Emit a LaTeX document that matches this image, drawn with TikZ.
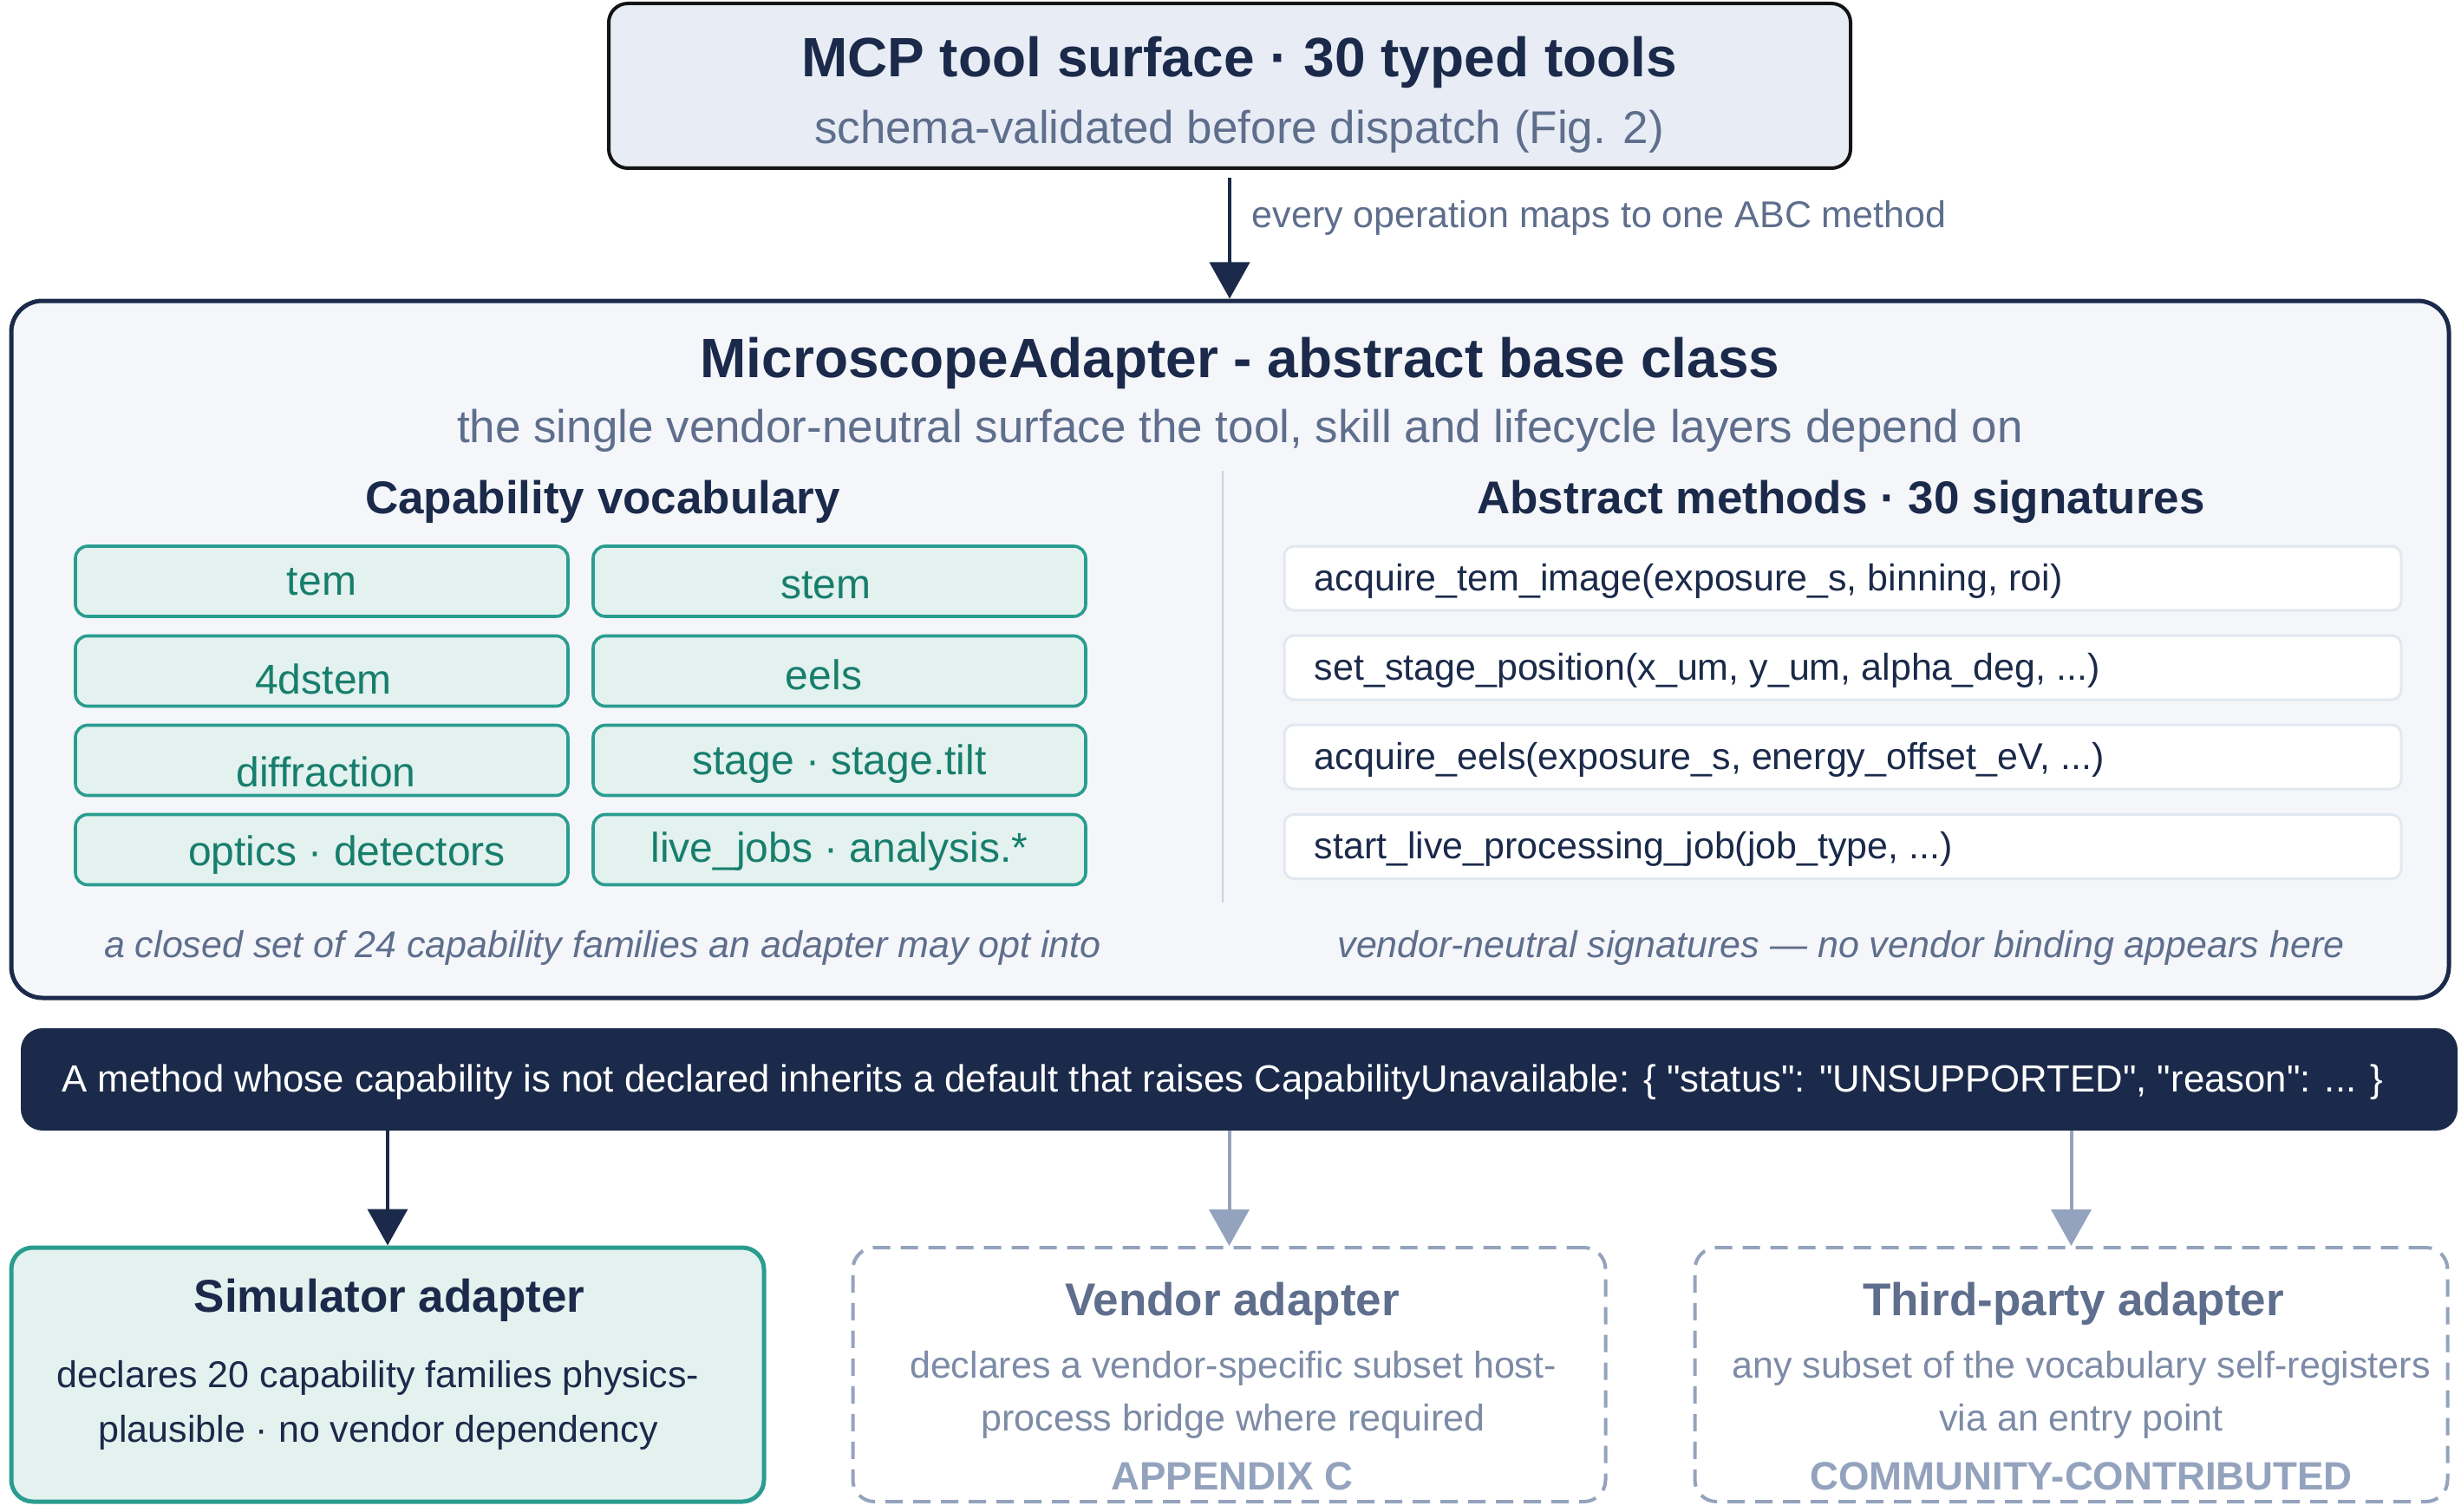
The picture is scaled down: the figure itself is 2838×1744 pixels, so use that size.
\documentclass[tikz,border=0pt]{standalone}
\usepackage{fontspec}
\setmainfont{Liberation Sans}[Ligatures=TeXOff]
\usetikzlibrary{arrows.meta}
\definecolor{navy}{HTML}{1B2A4A}
\definecolor{slate}{HTML}{5E6E8C}
\definecolor{slatelt}{HTML}{7D8BA6}
\definecolor{grayarr}{HTML}{94A3BD}
\definecolor{teal}{HTML}{2A9D8F}
\definecolor{tealtxt}{HTML}{177E6C}
\definecolor{pillfill}{HTML}{E3F1EF}
\definecolor{topfill}{HTML}{E8EDF5}
\definecolor{mainfill}{HTML}{F4F6FA}
\definecolor{methline}{HTML}{E2E8F0}
\definecolor{divider}{HTML}{CBD2DE}
\begin{document}
\begin{tikzpicture}[x=0.25pt,y=-0.25pt,
  box/.style={draw, rectangle, inner sep=0pt},
  t/.style={inner sep=0pt, yshift=-1.25pt},
  titlef/.style={font=\fontsize{16}{19}\selectfont\bfseries, text=navy},
  subf/.style={font=\fontsize{13.25}{16}\selectfont, text=slate},
  headf/.style={font=\fontsize{13.25}{16}\selectfont\bfseries, text=navy},
  pillf/.style={font=\fontsize{12}{14}\selectfont, text=tealtxt},
  smallf/.style={font=\fontsize{10.75}{13}\selectfont},
  tagf/.style={font=\fontsize{11.4}{13}\selectfont\bfseries, text=grayarr},
  capf/.style={font=\fontsize{10.75}{13}\selectfont\itshape, text=slate},
  pill/.style={box, draw=teal, line width=0.9pt, fill=pillfill, rounded corners=3.5pt, minimum width=142pt, minimum height=20.25pt},
  meth/.style={box, draw=methline, line width=0.75pt, fill=white, rounded corners=2.8pt, minimum width=322pt, minimum height=18.5pt},
  bot/.style={box, rounded corners=6.25pt, minimum width=217pt, minimum height=73.25pt},
  arr/.style={-{Triangle[width=11.5pt,length=10.5pt]}, line width=1pt},
]
\useasboundingbox (0,0) rectangle (2838,1744);

% top box
\node[box, draw=black!92, line width=1pt, fill=topfill, rounded corners=5.5pt, minimum width=358pt, minimum height=47.5pt] (top) at (1418,99) {};
\node[t, titlef] (toptitle) at (1429,67) {MCP tool surface · 30 typed tools};
\node[t, subf] (topsub) at (1429,147) {schema-validated before dispatch (Fig. 2)};

% main box
\node[box, draw=navy, line width=1.25pt, fill=mainfill, rounded corners=9pt, minimum width=702.75pt, minimum height=201pt] (main) at (1418.5,749) {};
\coordinate (arrstart) at (1418,205);
\draw[arr, draw=navy, fill=navy] (arrstart) -- (arrstart |- main.north);
\node[t, smallf, text=slate, anchor=west] (arrlabel) at (1443,246) {every operation maps to one ABC method};

\node[t, titlef] (maintitle) at (1430,414) {MicroscopeAdapter - abstract base class};
\node[t, subf] (mainsub) at (1430,492) {the single vendor-neutral surface the tool, skill and lifecycle layers depend on};

\node[t, headf] (caphead) at (695,574) {Capability vocabulary};
\node[t, headf] (methhead) at (2123,574) {Abstract methods · 30 signatures};

\coordinate (divtop) at (1410,543);
\coordinate (divbot) at (1410,1041);
\draw[divider, line width=0.6pt] (divtop) -- (divbot);

% pills
\node[pill] (p1) at (371,670.5) {};
\node[pill] (p2) at (968,670.5) {};
\node[pill] (p3) at (371,774) {};
\node[pill] (p4) at (968,774) {};
\node[pill] (p5) at (371,877) {};
\node[pill] (p6) at (968,877) {};
\node[pill] (p7) at (371,980) {};
\node[pill] (p8) at (968,980) {};
\node[t, pillf] (p1t) at (371,666) {tem};
\node[t, pillf] (p2t) at (952,670) {stem};
\node[t, pillf] (p3t) at (373,778) {4dstem};
\node[t, pillf] (p4t) at (950,773) {eels};
\node[t, pillf] (p5t) at (376,885) {diffraction};
\node[t, pillf] (p6t) at (968,876) {stage · stage.tilt};
\node[t, pillf] (p7t) at (400,981) {optics · detectors};
\node[t, pillf] (p8t) at (968,977) {live\_jobs · analysis.*};

% methods
\node[meth] (m1) at (2125,667) {};
\node[meth] (m2) at (2125,770) {};
\node[meth] (m3) at (2125,873) {};
\node[meth] (m4) at (2125,976.5) {};
\node[t, smallf, text=navy, anchor=west] (m1t) at (1515,665) {acquire\_tem\_image(exposure\_s, binning, roi)};
\node[t, smallf, text=navy, anchor=west] (m2t) at (1515,768) {set\_stage\_position(x\_um, y\_um, alpha\_deg, ...)};
\node[t, smallf, text=navy, anchor=west] (m3t) at (1515,871) {acquire\_eels(exposure\_s, energy\_offset\_eV, ...)};
\node[t, smallf, text=navy, anchor=west] (m4t) at (1515,974.5) {start\_live\_processing\_job(job\_type, ...)};

\node[t, capf] (cap1) at (695,1088) {a closed set of 24 capability families an adapter may opt into};
\node[t, capf] (cap2) at (2123,1088) {vendor-neutral signatures — no vendor binding appears here};

% banner
\node[box, draw=navy, fill=navy, line width=0.5pt, rounded corners=6pt, minimum width=702pt, minimum height=29pt] (banner) at (1429,1245) {};
\node[t, font=\fontsize{10.93}{13}\selectfont, text=white] (bannert) at (1410,1243) {A method whose capability is not declared inherits a default that raises CapabilityUnavailable: \{ "status": "UNSUPPORTED", "reason": ... \}};

% bottom boxes
\node[bot, draw=teal, line width=1.25pt, fill=pillfill] (sim) at (447,1585.5) {};
\node[bot, draw=grayarr, line width=1pt, dash pattern=on 5pt off 3pt, fill=white] (ven) at (1417.5,1585.5) {};
\node[bot, draw=grayarr, line width=1pt, dash pattern=on 5pt off 3pt, fill=white] (thp) at (2388.5,1585.5) {};

\draw[arr, draw=navy, fill=navy] (banner.south -| sim.north) -- (sim.north);
\draw[arr, draw=grayarr, fill=grayarr] (banner.south -| ven.north) -- (ven.north);
\draw[arr, draw=grayarr, fill=grayarr] (banner.south -| thp.north) -- (thp.north);

\node[t, headf] (simt) at (449,1495) {Simulator adapter};
\node[t, smallf, text=navy] (sim1) at (436,1584) {declares 20 capability families physics-};
\node[t, smallf, text=navy] (sim2) at (436,1647) {plausible · no vendor dependency};

\node[t, headf, text=slate] (vent) at (1421,1499) {Vendor adapter};
\node[t, smallf, text=slatelt] (ven1) at (1422,1573) {declares a vendor-specific subset host-};
\node[t, smallf, text=slatelt] (ven2) at (1422,1634) {process bridge where required};
\node[t, tagf] (ven3) at (1421,1698) {APPENDIX C};

\node[t, headf, text=slate] (thpt) at (2391,1499) {Third-party adapter};
\node[t, smallf, text=slatelt] (thp1) at (2400,1573) {any subset of the vocabulary self-registers};
\node[t, smallf, text=slatelt] (thp2) at (2400,1634) {via an entry point};
\node[t, tagf] (thp3) at (2400,1698) {COMMUNITY-CONTRIBUTED};
\end{tikzpicture}
\end{document}
